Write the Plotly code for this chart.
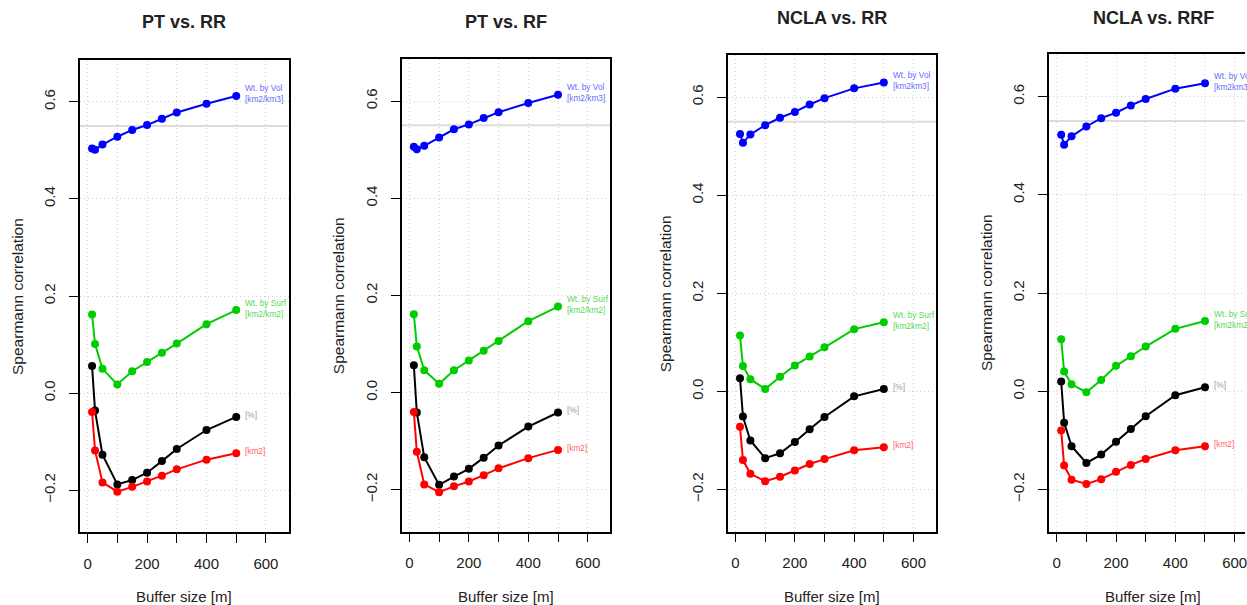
import plotly.graph_objects as go

# ---------------- data ----------------
buffer_m = [15, 25, 50, 100, 150, 200, 250, 300, 400, 500]

titles = ["PT vs. RR", "PT vs. RF", "NCLA vs. RR", "NCLA vs. RRF"]

vol = [
    [0.504, 0.501, 0.512, 0.528, 0.542, 0.552, 0.565, 0.578, 0.596, 0.612],
    [0.506, 0.501, 0.508, 0.525, 0.542, 0.552, 0.565, 0.577, 0.596, 0.613],
    [0.525, 0.507, 0.524, 0.543, 0.558, 0.570, 0.585, 0.598, 0.618, 0.630],
    [0.522, 0.502, 0.519, 0.539, 0.556, 0.567, 0.582, 0.595, 0.616, 0.627],
]
surf = [
    [0.162, 0.101, 0.050, 0.018, 0.045, 0.064, 0.083, 0.102, 0.142, 0.171],
    [0.161, 0.095, 0.046, 0.018, 0.046, 0.066, 0.086, 0.106, 0.147, 0.177],
    [0.114, 0.052, 0.025, 0.005, 0.030, 0.053, 0.071, 0.090, 0.127, 0.141],
    [0.106, 0.040, 0.014, -0.002, 0.023, 0.052, 0.071, 0.091, 0.127, 0.143],
]
pct = [
    [0.056, -0.036, -0.127, -0.188, -0.179, -0.164, -0.140, -0.115, -0.076, -0.049],
    [0.056, -0.041, -0.133, -0.190, -0.173, -0.157, -0.134, -0.109, -0.070, -0.041],
    [0.027, -0.051, -0.100, -0.136, -0.126, -0.103, -0.077, -0.052, -0.010, 0.005],
    [0.020, -0.064, -0.112, -0.146, -0.129, -0.103, -0.077, -0.051, -0.008, 0.008],
]
km2 = [
    [-0.039, -0.118, -0.184, -0.203, -0.193, -0.182, -0.170, -0.157, -0.137, -0.124],
    [-0.040, -0.122, -0.189, -0.205, -0.193, -0.183, -0.170, -0.156, -0.135, -0.118],
    [-0.072, -0.140, -0.168, -0.183, -0.174, -0.161, -0.148, -0.138, -0.120, -0.114],
    [-0.080, -0.151, -0.180, -0.189, -0.179, -0.164, -0.150, -0.138, -0.120, -0.112],
]

vol_labels = ["Wt. by Vol<br>[km2/km3]", "Wt. by Vol<br>[km2/km3]",
              "Wt. by Vol<br>[km2km3]", "Wt. by Vol<br>[km2km3]"]
surf_labels = ["Wt. by Surf<br>[km2/km2]", "Wt. by Surf<br>[km2/km2]",
               "Wt. by Surf<br>[km2km2]", "Wt. by Surf<br>[km2km2]"]
pct_label = "[%]"
km2_label = "[km2]"

x_ticks = [0, 100, 200, 300, 400, 500, 600]
x_ticktext = ["0", "", "200", "", "400", "", "600"]
y_ticks = [-0.2, 0.0, 0.2, 0.4, 0.6]
y_ticktext = ["\u22120.2", "0.0", "0.2", "0.4", "0.6"]
ref_line = 0.55
x_title = "Buffer size [m]"
y_title = "Spearmann correlation"

# ---------------- layout (pixel geometry) ----------------
W, H = 1247, 605
# left, right(full), top, bottom, title_y
panels = [
    (80.0, 289.0, 60.0, 532.0, 22.0),
    (402.3, 611.3, 59.3, 531.5, 22.0),
    (729.0, 937.5, 55.0, 531.7, 18.5),
    (1050.7, 1259.2, 54.3, 531.7, 17.5),
]
XR = (-26, 676)
YR = (-0.286, 0.686)

FONT = "Liberation Sans, Arial, sans-serif"
C_VOL, C_SURF, C_PCT, C_KM2 = "#0000ff", "#00cd00", "#000000", "#ff0000"
T_VOL, T_SURF, T_PCT, T_KM2 = "#6a6aff", "#55d855", "#9a9a9a", "#ff6464"

fig = go.Figure()
annotations = []
shapes = []

for i, (l, r, t, b, ty) in enumerate(panels):
    k = "" if i == 0 else str(i + 1)
    xa, ya = "x" + k, "y" + k
    r_dom = min(r, W)
    xmax = XR[0] + (XR[1] - XR[0]) * (r_dom - l) / (r - l)
    dom_x = [l / W, r_dom / W]
    dom_y = [1 - b / H, 1 - t / H]
    clipped = r > W

    axis_common = dict(
        showline=True, linecolor="black", linewidth=1.5,
        ticks="outside", ticklen=9, tickwidth=1.3, tickcolor="black",
        showgrid=True, gridcolor="#cfcfcf", griddash="1px,3px", gridwidth=1,
        zeroline=False, tickfont=dict(family=FONT, size=15, color="#222"),
        ticklabelstandoff=8, ticklabeloverflow="allow",
    )
    fig.layout["xaxis" + k] = dict(
        axis_common, domain=dom_x, range=[XR[0], xmax], anchor=ya,
        tickvals=x_ticks, ticktext=x_ticktext, mirror=True,
    )
    fig.layout["yaxis" + k] = dict(
        axis_common, domain=dom_y, range=list(YR), anchor=xa,
        tickvals=y_ticks, ticktext=y_ticktext, tickangle=-90,
        mirror=(not clipped),
    )

    shapes.append(dict(type="line", xref=xa + " domain", yref=ya,
                       x0=0, x1=1, y0=ref_line, y1=ref_line,
                       line=dict(color="#dcdcdc", width=2), layer="below"))

    for ys, col in ((vol[i], C_VOL), (surf[i], C_SURF), (pct[i], C_PCT), (km2[i], C_KM2)):
        fig.add_trace(go.Scatter(
            x=buffer_m, y=ys, xaxis=xa, yaxis=ya, mode="lines+markers",
            line=dict(color=col, width=2), marker=dict(color=col, size=8),
            showlegend=False, hoverinfo="skip", cliponaxis=False,
        ))

    for ys, txt, col in ((vol[i], vol_labels[i], T_VOL), (surf[i], surf_labels[i], T_SURF),
                         (pct[i], pct_label, T_PCT), (km2[i], km2_label, T_KM2)):
        annotations.append(dict(
            x=buffer_m[-1], y=ys[-1], xref=xa, yref=ya, text=txt,
            xanchor="left", yanchor="middle", xshift=7, yshift=2,
            showarrow=False, align="left",
            font=dict(family=FONT, size=8.3, color=col),
        ))

    cx = (l + r) / 2
    annotations.append(dict(
        x=cx / W, y=1 - ty / H, xref="paper", yref="paper", text="<b>%s</b>" % titles[i],
        xanchor="center", yanchor="middle", showarrow=False,
        font=dict(family=FONT, size=18, color="#222"),
    ))
    annotations.append(dict(
        x=cx / W, y=1 - 596 / H, xref="paper", yref="paper", text=x_title,
        xanchor="center", yanchor="middle", showarrow=False,
        font=dict(family=FONT, size=15, color="#222"),
    ))
    annotations.append(dict(
        x=(l - 63) / W, y=1 - ((t + b) / 2) / H, xref="paper", yref="paper",
        text=y_title, textangle=-90, xanchor="center", yanchor="middle",
        showarrow=False, font=dict(family=FONT, size=15.5, color="#222"),
    ))

fig.update_layout(
    width=W, height=H, margin=dict(l=0, r=0, t=0, b=0),
    paper_bgcolor="white", plot_bgcolor="white",
    annotations=annotations, shapes=shapes, showlegend=False,
)

fig.write_html("out.html")
